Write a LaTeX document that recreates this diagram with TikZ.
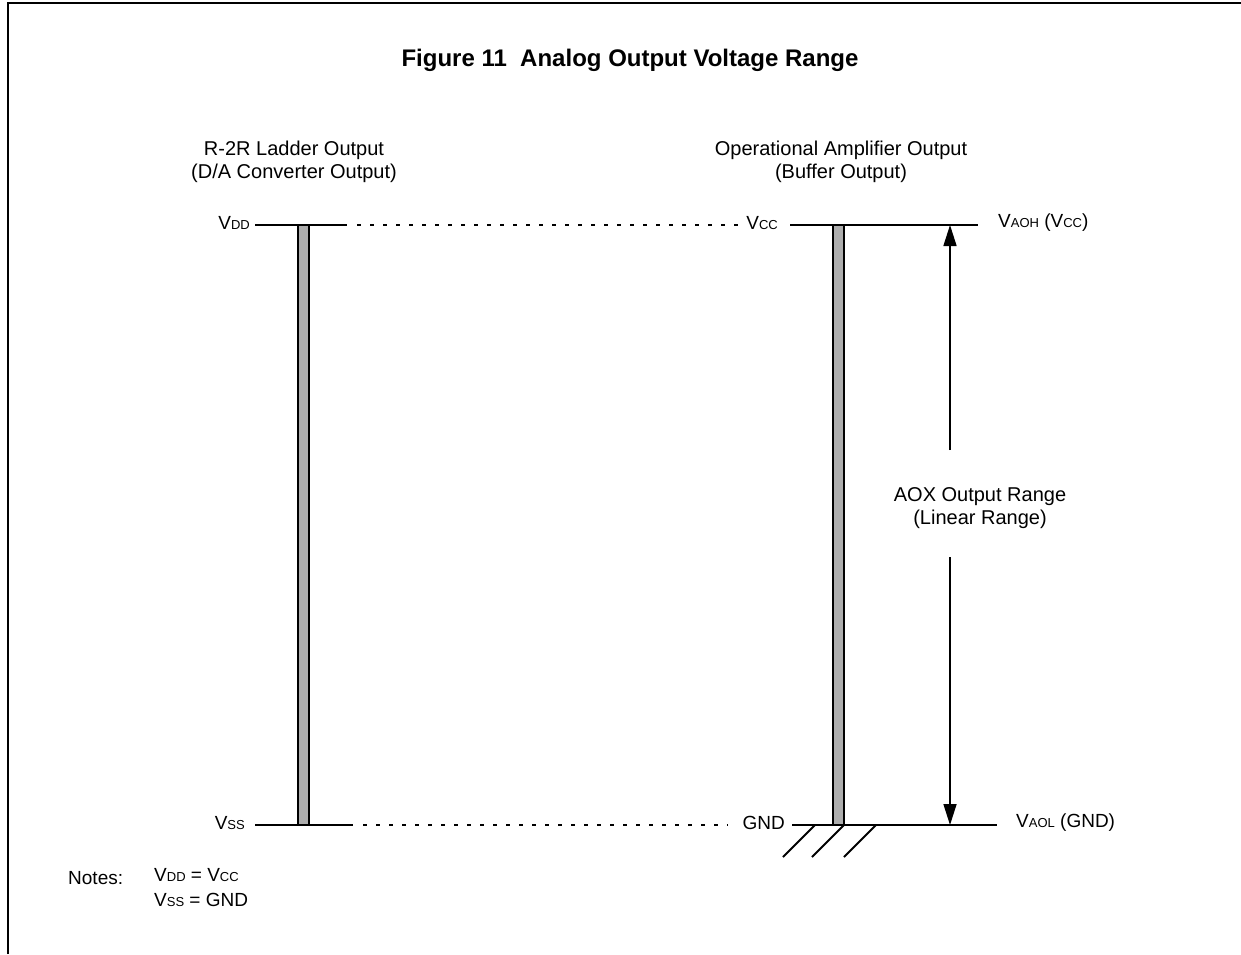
\documentclass[tikz,border=0pt]{standalone}
\usepackage{fontspec}
\setmainfont{Liberation Sans}
\usetikzlibrary{arrows.meta, positioning}
\newcommand{\lo}[1]{{\fontsize{13}{13}\selectfont #1}}

\begin{document}
\begin{tikzpicture}[x=1pt, y=-1pt,
    rail/.style={line width=2pt},
    dots/.style={line width=2pt, dash pattern=on 4pt off 9pt},
    bar/.style={draw, line width=1.6pt, fill=black!32},
    lbl/.style={font=\fontsize{19}{25}\selectfont, inner sep=0pt, yshift=2pt},
    head/.style={font=\fontsize{20}{23}\selectfont, align=center, inner sep=0pt},
    rng/.style={line width=1.6pt, -{Triangle[length=21pt,width=13pt]}}]
    \useasboundingbox (0,0) rectangle (1241,954);
    \draw[line width=1.5pt] (8,954) -- (8,3) -- (1241,3);

    \node[font=\fontsize{24}{28}\selectfont\bfseries] (title) at (630,60) {Figure 11\ \ Analog Output Voltage Range};
    \node[head] (ladder) at (294,162) {R-2R Ladder Output\\(D/A Converter Output)};
    \node[head] (buffer) at (841,162) {Operational Amplifier Output\\(Buffer Output)};

    % rails
    \coordinate (ltopL) at (255,225);
    \coordinate (ltopR) at (347,225);
    \coordinate (lbotL) at (255,825);
    \coordinate (lbotR) at (353,825);
    \coordinate (rtopL) at (790,225);
    \coordinate (rtopR) at (978,225);
    \coordinate (rbotL) at (792,825);
    \coordinate (rbotR) at (997,825);

    \node[lbl, left=5pt of ltopL] (vdd) {V\lo{DD}};
    \node[lbl, left=10pt of lbotL] (vss) {V\lo{SS}};
    \node[lbl, left=12pt of rtopL] (vcc) {V\lo{CC}};
    \node[lbl, left=7pt of rbotL] (gnd) {GND};
    \node[lbl, right=20pt of rtopR] (vaoh) {V\lo{AOH} (V\lo{CC})};
    \node[lbl, right=19pt of rbotR] (vaol) {V\lo{AOL} (GND)};

    \draw[rail] (ltopL) -- (ltopR);
    \draw[rail] (lbotL) -- (lbotR);
    \draw[rail] (rtopL) -- (rtopR);
    \draw[rail] (rbotL) -- (rbotR);
    \draw[dots, shorten <=10pt, shorten >=8pt] (ltopR) -- (vcc.west |- ltopR);
    \draw[dots, shorten <=10pt, shorten >=14pt] (lbotR) -- (gnd.west |- lbotR);

    \draw[bar] (298,225) rectangle (309,825);
    \draw[bar] (833,225) rectangle (844,825);

    \foreach \gx in {815,844,876}
        \draw[rail] (\gx,825) -- ++(-32,32);

    % output range
    \node[head] (range) at (980,508) {AOX Output Range\\(Linear Range)};
    \coordinate (atop) at (950,225);
    \coordinate (abot) at (950,825);
    \coordinate (aup) at (950,450);
    \coordinate (adn) at (950,557);
    \draw[rng] (aup) -- (atop);
    \draw[rng] (adn) -- (abot);

    \node[lbl, anchor=west] (notes) at (68,880) {Notes:};
    \node[lbl, anchor=north west, align=left] (eq) at (154,870) {V\lo{DD} = V\lo{CC}\\V\lo{SS} = GND};
\end{tikzpicture}
\end{document}
